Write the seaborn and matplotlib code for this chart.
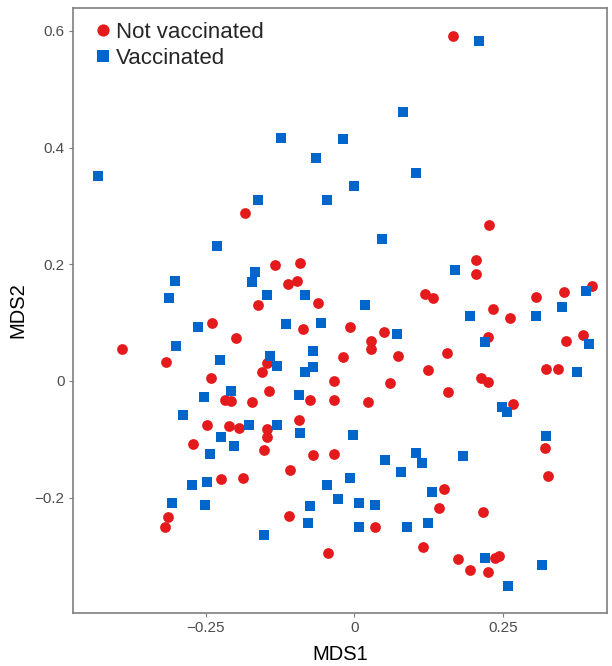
import numpy as np
import pandas as pd
import matplotlib
matplotlib.use("Agg")
import matplotlib.pyplot as plt
from matplotlib.lines import Line2D
import seaborn as sns

# ---- data ----
nv_mds1 = [0.165, -0.185, -0.134, -0.092, -0.097, -0.112, -0.062, -0.162, -0.239, -0.086,
           -0.199, -0.392, -0.020, -0.318, -0.147, -0.155, -0.241, -0.034, -0.143, -0.218,
           -0.208, -0.172, -0.075, -0.034, 0.226, 0.205, 0.205, 0.399, 0.353, 0.119,
           0.132, 0.305, 0.233, 0.262, -0.007, 0.049, 0.028, 0.028, 0.225, 0.384,
           0.356, 0.074, 0.155, 0.124, 0.323, 0.343, 0.060, 0.213, 0.225, 0.157,
           0.023, 0.267, 0.321, 0.325, 0.150, 0.142, 0.216, 0.034, 0.116, 0.174,
           0.236, 0.243, 0.195, 0.224, -0.249, -0.211, -0.194, -0.094, -0.148, -0.147,
           -0.271, -0.153, -0.069, -0.035, -0.108, -0.225, -0.187, -0.314, -0.319, -0.111,
           -0.045]
nv_mds2 = [0.591, 0.288, 0.199, 0.203, 0.172, 0.166, 0.134, 0.130, 0.100, 0.089,
           0.073, 0.055, 0.041, 0.033, 0.031, 0.016, 0.005, 0.000, -0.017, -0.032,
           -0.035, -0.036, -0.032, -0.032, 0.268, 0.207, 0.184, 0.163, 0.153, 0.149,
           0.142, 0.143, 0.123, 0.107, 0.092, 0.084, 0.069, 0.054, 0.075, 0.078,
           0.069, 0.042, 0.047, 0.018, 0.020, 0.021, -0.004, 0.005, -0.002, -0.019,
           -0.036, -0.039, -0.115, -0.163, -0.185, -0.218, -0.225, -0.251, -0.285, -0.306,
           -0.303, -0.301, -0.325, -0.328, -0.075, -0.078, -0.081, -0.067, -0.083, -0.096,
           -0.108, -0.119, -0.127, -0.126, -0.153, -0.168, -0.167, -0.234, -0.251, -0.232,
           -0.295]

v_mds1 = [-0.431, -0.123, -0.020, -0.064, -0.162, -0.047, 0.210, 0.081, 0.103, 0.000,
          -0.231, -0.167, -0.302, -0.172, -0.148, -0.083, -0.312, -0.263, -0.116, -0.057,
          -0.300, -0.069, -0.226, -0.142, -0.131, -0.069, -0.084, -0.254, -0.207, -0.093,
          0.047, 0.170, 0.389, 0.018, 0.350, 0.195, 0.306, 0.072, 0.220, 0.394,
          0.375, 0.249, 0.257, -0.002, 0.323, 0.104, 0.052, 0.113, 0.182, 0.079,
          -0.007, -0.028, 0.131, 0.007, 0.035, 0.007, 0.089, 0.124, 0.219, 0.315,
          0.259, -0.288, -0.177, -0.130, -0.091, -0.224, -0.202, -0.243, -0.273, -0.248,
          -0.047, -0.307, -0.251, -0.074, -0.078, -0.152]
v_mds2 = [0.352, 0.416, 0.414, 0.383, 0.310, 0.311, 0.582, 0.461, 0.356, 0.334,
          0.232, 0.186, 0.171, 0.169, 0.148, 0.148, 0.142, 0.093, 0.097, 0.100,
          0.059, 0.051, 0.035, 0.042, 0.025, 0.023, 0.015, -0.027, -0.018, -0.025,
          0.243, 0.191, 0.154, 0.130, 0.126, 0.112, 0.112, 0.081, 0.066, 0.063,
          0.016, -0.045, -0.054, -0.093, -0.095, -0.124, -0.136, -0.140, -0.128, -0.157,
          -0.167, -0.202, -0.190, -0.210, -0.212, -0.251, -0.251, -0.244, -0.304, -0.316,
          -0.352, -0.059, -0.076, -0.076, -0.090, -0.096, -0.112, -0.126, -0.179, -0.174,
          -0.178, -0.210, -0.212, -0.215, -0.243, -0.265]

groups = ["Not vaccinated", "Vaccinated"]
x_ticks = [-0.25, 0, 0.25]
x_tick_labels = ["\u22120.25", "0", "0.25"]
y_ticks = [-0.2, 0, 0.2, 0.4, 0.6]
y_tick_labels = ["\u22120.2", "0", "0.2", "0.4", "0.6"]

red = "#E41A1C"
blue = "#0066CC"

df = pd.DataFrame({
    "MDS1": nv_mds1 + v_mds1,
    "MDS2": nv_mds2 + v_mds2,
    "group": [groups[0]] * len(nv_mds1) + [groups[1]] * len(v_mds1),
})

sns.set_theme(style="white")
plt.rcParams["font.family"] = ["Liberation Sans", "DejaVu Sans"]

fig = plt.figure(figsize=(6.12, 6.66), dpi=100)
ax = fig.add_axes([73 / 612, 1 - 613 / 666, (607 - 73) / 612, (613 - 8) / 666])

sns.scatterplot(data=df[df.group == groups[0]], x="MDS1", y="MDS2", color=red,
                marker="o", s=60, linewidth=0, ax=ax, legend=False)
sns.scatterplot(data=df[df.group == groups[1]], x="MDS1", y="MDS2", color=blue,
                marker="s", s=44, linewidth=0, ax=ax, legend=False)

ax.set_xlim(-0.4737, 0.425)
ax.set_ylim(-0.398, 0.6394)
ax.set_xticks(x_ticks)
ax.set_xticklabels(x_tick_labels)
ax.set_yticks(y_ticks)
ax.set_yticklabels(y_tick_labels)

for sp in ax.spines.values():
    sp.set_visible(True)
    sp.set_color("#7F7F7F")
    sp.set_linewidth(1.2)

ax.tick_params(axis="both", which="both", direction="out", length=3, width=0.8,
               color="#7F7F7F", labelsize=11, labelcolor="#4D4D4D", pad=3,
               bottom=True, left=True)
ax.set_xlabel("MDS1", fontsize=14.5, color="black", labelpad=7)
ax.set_ylabel("MDS2", fontsize=14.5, color="black", labelpad=5)

handles = [
    Line2D([], [], linestyle="none", marker="o", markersize=8.8, color=red,
           markeredgewidth=0, label=groups[0]),
    Line2D([], [], linestyle="none", marker="s", markersize=9.0, color=blue,
           markeredgewidth=0, label=groups[1]),
]
ax.legend(handles=handles, loc="upper left", bbox_to_anchor=(0.011, 1.003),
          frameon=False, fontsize=16, handlelength=0.8, handletextpad=0.16,
          labelspacing=0.24, borderaxespad=0.3)

fig.savefig("out.png", dpi=100)
